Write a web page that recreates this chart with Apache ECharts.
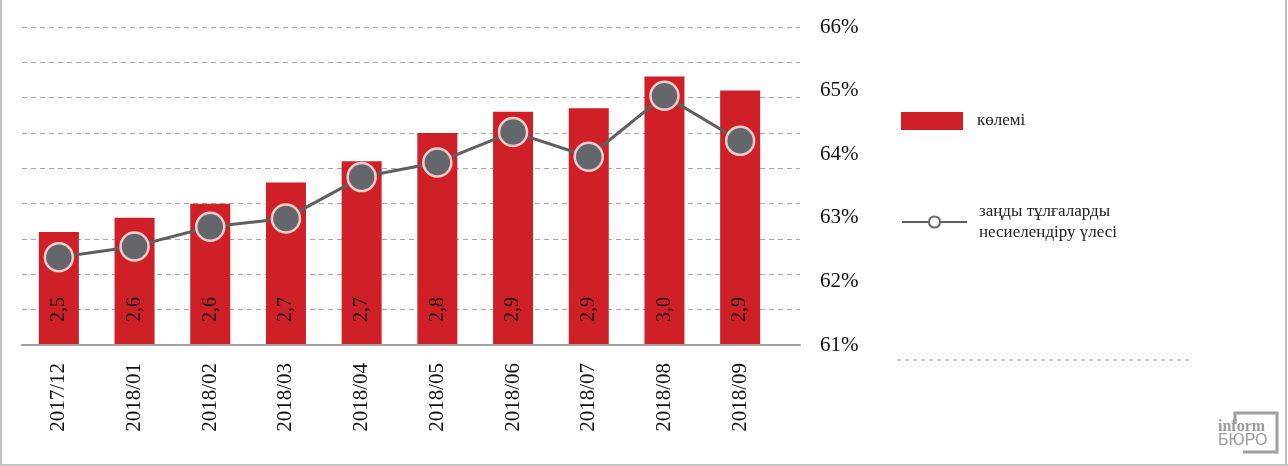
<!DOCTYPE html>
<html>
<head>
<meta charset="utf-8">
<script src="https://cdn.jsdelivr.net/npm/echarts@6/dist/echarts.min.js"></script>
<style>
html,body{margin:0;padding:0;background:#ffffff;}
#chart{width:1288px;height:466px;}
</style>
</head>
<body>
<div id="chart"></div>
<script>
// ---- data ----
var months = ['2017/12','2018/01','2018/02','2018/03','2018/04','2018/05','2018/06','2018/07','2018/08','2018/09'];
var volume = [2.52, 2.56, 2.60, 2.66, 2.72, 2.80, 2.86, 2.87, 2.96, 2.92];
var share = [62.38, 62.55, 62.86, 62.99, 63.64, 63.87, 64.35, 63.96, 64.92, 64.21];
var barName = 'көлемі';
var lineName = 'заңды тұлғаларды\nнесиелендіру үлесі';
var volMin = 2.2, volMax = 3.1, volStep = 0.1;
var pctMin = 61, pctMax = 66, pctStep = 1;

var SERIF = "'Liberation Serif','Times New Roman',serif";
var chart = echarts.init(document.getElementById('chart'), null, {renderer:'canvas'});

var option = {
  backgroundColor: '#ffffff',
  animation: false,
  grid: [
    {left: 22, top: 27, width: 778, height: 318},
    {left: 21, top: 27, width: 757, height: 318}
  ],
  xAxis: [
    {gridIndex: 0, type: 'category', data: [''],
     axisLine: {show: true, lineStyle: {color: '#a2a2a2', width: 2}},
     axisTick: {show: false}, axisLabel: {show: false}, splitLine: {show: false}, z: 5},
    {gridIndex: 1, type: 'category', data: months,
     axisLine: {show: false}, axisTick: {show: false},
     axisLabel: {rotate: 90, margin: 18, fontSize: 21, fontFamily: SERIF, color: '#111111', interval: 0}}
  ],
  yAxis: [
    {gridIndex: 0, type: 'value', min: volMin, max: volMax, interval: volStep,
     axisLine: {show: false}, axisTick: {show: false}, axisLabel: {show: false},
     splitLine: {show: true, lineStyle: {color: '#a8a8a8', width: 1.2, type: [5, 4]}}},
    {gridIndex: 1, type: 'value', min: volMin, max: volMax, interval: volStep, show: false,
     splitLine: {show: false}},
    {gridIndex: 1, type: 'value', position: 'right', min: pctMin, max: pctMax, interval: pctStep,
     axisLine: {show: false}, axisTick: {show: false}, splitLine: {show: false},
     axisLabel: {formatter: '{value}%', margin: 42, fontSize: 21, fontFamily: SERIF, color: '#111111'}}
  ],
  legend: [
    {data: [barName], left: 901, top: 112, padding: 0, orient: 'vertical',
     itemWidth: 62, itemHeight: 18, icon: 'rect', selectedMode: false,
     textStyle: {fontSize: 17, fontFamily: SERIF, color: '#222222', padding: [0,0,0,9]}},
    {data: [{name: lineName, itemStyle: {color: '#ffffff', borderColor: '#666666', borderWidth: 2}}],
     left: 901, top: 201, padding: 0, orient: 'vertical',
     itemWidth: 65, itemHeight: 14, selectedMode: false,
     textStyle: {fontSize: 17, fontFamily: SERIF, color: '#222222', lineHeight: 21, padding: [0,0,0,7]}}
  ],
  series: [
    {name: barName, type: 'bar', xAxisIndex: 1, yAxisIndex: 1, data: volume,
     barWidth: 40,
     itemStyle: {color: '#cf1f27'},
     label: {show: true, position: 'insideBottom', distance: 23, rotate: 90,
       align: 'left', verticalAlign: 'middle',
       fontSize: 20, fontFamily: SERIF, color: '#1a1a1a',
       formatter: function(p){ return p.value.toFixed(1).replace('.', ','); }}},
    {name: lineName, type: 'line', xAxisIndex: 1, yAxisIndex: 2, data: share,
     z: 5, symbol: 'circle', symbolSize: 28,
     lineStyle: {color: '#5f5f5f', width: 3},
     itemStyle: {color: '#63676b', borderColor: '#f2cbcb', borderWidth: 2.5}}
  ],
  graphic: [
    {type: 'line', shape: {x1: 1, y1: 0, x2: 1, y2: 466}, style: {stroke: '#c4c4c4', lineWidth: 2}},
    {type: 'line', shape: {x1: 0, y1: 465, x2: 1288, y2: 465}, style: {stroke: '#c4c4c4', lineWidth: 2}},
    {type: 'line', shape: {x1: 1286, y1: 0, x2: 1286, y2: 466}, style: {stroke: '#c4c4c4', lineWidth: 2}},
    {type: 'line', shape: {x1: 897, y1: 360, x2: 1193, y2: 360}, style: {stroke: '#9a9a9a', lineWidth: 1, lineDash: [4, 4]}},
    {type: 'polyline', shape: {points: [[1235,424],[1235,413],[1277,413],[1277,452],[1243,452]]},
     style: {stroke: '#a0a0a0', lineWidth: 3, fill: null}},
    {type: 'text', left: 1218, top: 419, style: {text: 'inform', font: "bold 16px 'Liberation Serif', serif", fill: '#9a9a9a'}},
    {type: 'text', left: 1218, top: 433, style: {text: 'БЮРО', font: "16px 'Liberation Sans', sans-serif", fill: '#9a9a9a'}}
  ]
};
chart.setOption(option);
</script>
</body>
</html>
